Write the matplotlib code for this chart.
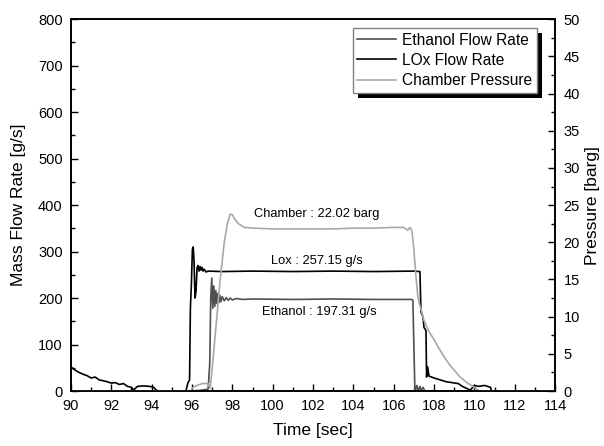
import matplotlib
matplotlib.use("Agg")
import matplotlib.pyplot as plt
from matplotlib.patches import Rectangle
from matplotlib.transforms import IdentityTransform
from matplotlib.ticker import MultipleLocator

plt.rcParams['font.family'] = ['Liberation Sans', 'DejaVu Sans']

# LOx flow rate [g/s]
lox_t = [90.0, 90.2, 90.4, 90.6, 90.8, 91.0, 91.2, 91.4, 91.6, 91.8, 92.0,
         92.2, 92.4, 92.6, 92.8, 93.0, 93.1, 93.3, 93.6, 93.9, 94.1, 94.2,
         94.3, 95.7, 95.8, 95.88, 95.92, 95.97, 96.02, 96.06, 96.1, 96.15,
         96.2, 96.25, 96.3, 96.35, 96.4, 96.45, 96.5, 96.55, 96.6, 96.7,
         96.8, 97.5, 99.0, 101.0, 103.0, 105.0, 107.0, 107.3, 107.35,
         107.45, 107.5, 107.6, 107.63, 107.68, 107.75, 108.0, 108.3, 108.6,
         108.9, 109.2, 109.4, 109.6, 109.8, 110.0, 110.2, 110.5, 110.8,
         110.85, 114.0]
lox_v = [52, 45, 40, 36, 33, 28, 30, 24, 22, 20, 17,
         18, 14, 16, 10, 8, 2, 10, 11, 10, 8, 3,
         0, 0, 18, 24, 178, 230, 305, 310, 280, 200,
         215, 265, 270, 258, 268, 260, 266, 258, 262, 256,
         258, 257, 258, 257, 258, 257, 258, 257, 170,
         160, 137, 130, 30, 52, 32, 28, 24, 20,
         18, 16, 10, 6, 2, 12, 10, 12, 8,
         0, 0]

# Ethanol flow rate [g/s]
eth_t = [90.0, 96.0, 96.5, 96.8, 96.88, 96.93, 96.98, 97.03, 97.08,
         97.13, 97.18, 97.23, 97.28, 97.33, 97.38, 97.43, 97.5, 97.6,
         97.7, 97.8, 97.9, 98.0, 98.2, 98.5, 99.0, 101.0, 103.0, 105.0,
         106.9, 106.95, 107.05, 107.15, 107.2, 107.3, 107.35, 107.45,
         107.55, 114.0]
eth_v = [0, 0, 2, 4, 60, 200, 243, 178, 226, 182, 216, 188, 210, 190,
         206, 192, 203, 194, 201, 195, 200, 196, 199, 197, 198, 197, 198,
         197, 197, 195, 0, 12, 0, 10, 0, 8, 0, 0]

# Chamber pressure [barg]
pc_t = [90.0, 95.9, 96.1, 96.5, 96.8, 96.9, 97.0, 97.2, 97.4, 97.6, 97.75,
        97.9, 98.0, 98.1, 98.3, 98.6, 99.0, 100.0, 101.0, 102.0, 103.0,
        104.0, 105.0, 106.0, 106.5, 106.7, 106.8, 106.9, 107.0, 107.1,
        107.2, 107.3, 107.5, 107.75, 108.0, 108.25, 108.5, 108.75, 109.0,
        109.25, 109.5, 109.75, 110.0, 110.2, 110.4, 114.0]
pc_v = [0, 0, 0.6, 1.0, 1.0, 0.4, 3.0, 9.0, 15.0, 20.0, 22.5,
        23.8, 23.7, 23.2, 22.5, 22.0, 21.9, 21.8, 21.8, 21.8, 21.8,
        21.9, 21.9, 22.0, 22.0, 21.6, 22.0, 21.6, 19.0, 15.5,
        12.6, 11.5, 9.5, 8.0, 6.9, 5.7, 4.6, 3.6, 2.8,
        2.0, 1.4, 0.9, 0.5, 0.1, 0.0, 0.0]

labels = ['Ethanol Flow Rate', 'LOx Flow Rate', 'Chamber Pressure']
notes = ['Chamber : 22.02 barg', 'Lox : 257.15 g/s', 'Ethanol : 197.31 g/s']

fig = plt.figure(figsize=(6.04, 4.46), dpi=100)
ax = fig.add_axes([0.1175, 0.1233, 0.8015, 0.8337])
ax2 = ax.twinx()

l1, = ax.plot(eth_t, eth_v, color='#505050', lw=1.2)
l2, = ax.plot(lox_t, lox_v, color='black', lw=1.2)
l3, = ax2.plot(pc_t, pc_v, color='#a8a8a8', lw=1.2)

ax.set_xlim(90, 114)
ax.set_ylim(0, 800)
ax2.set_ylim(0, 50)

ax.xaxis.set_major_locator(MultipleLocator(2))
ax.xaxis.set_minor_locator(MultipleLocator(1))
ax.yaxis.set_major_locator(MultipleLocator(100))
ax.yaxis.set_minor_locator(MultipleLocator(50))
ax2.yaxis.set_major_locator(MultipleLocator(5))
ax2.yaxis.set_minor_locator(MultipleLocator(2.5))

for a in (ax, ax2):
    a.tick_params(which='both', direction='in', labelsize=10.5, width=1, pad=6)
    a.tick_params(which='major', length=5)
    a.tick_params(which='minor', length=3)
    for s in a.spines.values():
        s.set_linewidth(1.2)
ax.tick_params(which='both', right=False, top=False)

ax.set_xlabel('Time [sec]', fontsize=12.5, labelpad=7)
ax.set_ylabel('Mass Flow Rate [g/s]', fontsize=12.5, labelpad=9)
ax2.set_ylabel('Pressure [barg]', fontsize=12.5, labelpad=4)

ax.text(102.2, 381, notes[0], ha='center', va='center', fontsize=9.3)
ax.text(102.2, 280, notes[1], ha='center', va='center', fontsize=9.3)
ax.text(102.3, 170, notes[2], ha='center', va='center', fontsize=9.3)

leg = ax2.legend([l1, l2, l3], labels, loc='upper right',
                 bbox_to_anchor=(0.963, 0.976), fontsize=11.2,
                 frameon=True, fancybox=False, edgecolor='#808080',
                 framealpha=1, borderpad=0.3, labelspacing=0.33,
                 handlelength=2.5, handletextpad=0.4, borderaxespad=0)
leg.get_frame().set_linewidth(1.0)

# drop shadow like the original
fig.canvas.draw()
bb = leg.get_window_extent()
ax2.add_patch(Rectangle((bb.x0 + 5, bb.y0 - 5), bb.width, bb.height,
                        facecolor='black', edgecolor='none',
                        transform=IdentityTransform(), clip_on=False,
                        zorder=4.9))

fig.savefig('out.png', dpi=100)
